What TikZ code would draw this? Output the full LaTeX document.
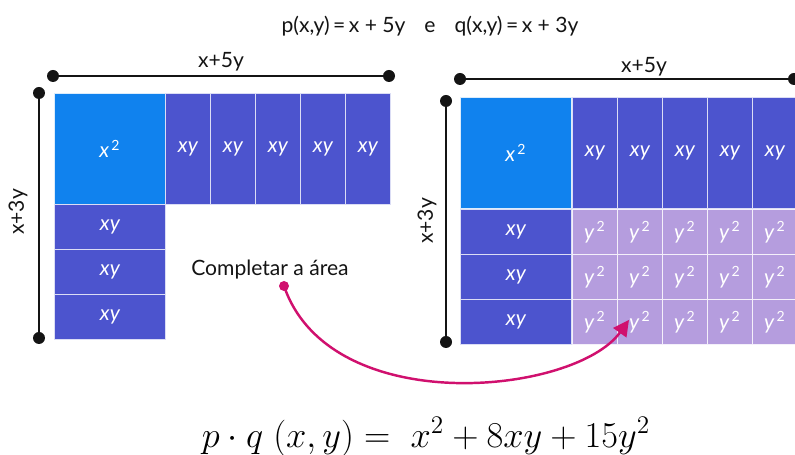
\documentclass[tikz,border=0pt]{standalone}
\usepackage[no-math]{fontspec}
\setmainfont{Lato}
\usepackage{amsmath}
\usepackage{tikz}
\usetikzlibrary{arrows.meta, positioning, calc}
\definecolor{sqblue}{RGB}{16,130,238}
\definecolor{xyblue}{RGB}{76,84,206}
\definecolor{ylilac}{RGB}{181,157,222}
\definecolor{mymag}{RGB}{208,16,110}
\definecolor{mydark}{RGB}{20,20,20}
\tikzset{
  sqcell/.style={rectangle, draw=white!85!sqblue, fill=sqblue, line width=0.5pt,
    minimum width=2.22cm, minimum height=2.22cm, anchor=north west,
    text=white, font=\large\itshape, inner sep=0pt},
  colcell/.style={rectangle, draw=white!80!xyblue, fill=xyblue, line width=0.5pt,
    minimum width=0.9cm, minimum height=2.22cm, anchor=north west,
    text=white, font=\large\itshape, inner sep=0pt},
  rowcell/.style={rectangle, draw=white!80!xyblue, fill=xyblue, line width=0.5pt,
    minimum width=2.22cm, minimum height=0.9cm, anchor=north west,
    text=white, font=\large\itshape, inner sep=0pt},
  ycell/.style={rectangle, draw=white!85!ylilac, fill=ylilac, line width=0.5pt,
    minimum width=0.9cm, minimum height=0.9cm, anchor=north west,
    text=white, font=\large\itshape, inner sep=0pt},
  axisline/.style={line width=1.7pt, color=mydark},
  axisdot/.style={fill=mydark},
  dimlabel/.style={font=\large, text=mydark},
  magarrow/.style={-{Triangle[length=9pt,width=9pt]}, line width=1.4pt, color=mymag}
}

\begin{document}
\begin{tikzpicture}[x=0.02cm, y=-0.02cm]
  \useasboundingbox (0,0) rectangle (795,455);

  % Title
  \node[font=\large, text=mydark] (title) at (430,26)
    {p(x,y)\,=\,x + 5y\hspace{0.9em}e\hspace{0.9em}q(x,y)\,=\,x + 3y};

  % Left figure: x^2 plus five columns and three rows of xy
  \node[sqcell] (sqL) at (54,93) {x\textsuperscript{\upshape\,2}};
  \foreach \i in {0,...,4}
    \node[colcell] (colL\i) at (165+45*\i,93) {xy};
  \foreach \j in {0,1,2}
    \node[rowcell] (rowL\j) at (54,204+45*\j) {xy};

  \coordinate (topLa) at (53,76);
  \coordinate (topLb) at (389,76);
  \coordinate (sideLa) at (39,93);
  \coordinate (sideLb) at (39,338);
  \draw[axisline] (topLa) -- (topLb);
  \draw[axisline] (sideLa) -- (sideLb);
  \foreach \c in {topLa,topLb,sideLa,sideLb}
    \fill[axisdot] (\c) circle (6);
  \node[dimlabel] (wL) at (221,62) {x+5y};
  \node[dimlabel, rotate=90] (hL) at (18,212) {x+3y};

  % Right figure: completed rectangle
  \node[sqcell] (sqR) at (460,97) {x\textsuperscript{\upshape\,2}};
  \foreach \i in {0,...,4}
    \node[colcell] (colR\i) at (572+45*\i,97) {xy};
  \foreach \j in {0,1,2} {
    \node[rowcell] (rowR\j) at (460,209+45*\j) {xy};
    \foreach \i in {0,...,4}
      \node[ycell] (yR\j\i) at (572+45*\i,209+45*\j) {y\textsuperscript{\upshape\,2}};
  }

  \coordinate (topRa) at (460,79);
  \coordinate (topRb) at (794,79);
  \coordinate (sideRa) at (446,101);
  \coordinate (sideRb) at (446,342);
  \draw[axisline] (topRa) -- (topRb);
  \draw[axisline] (sideRa) -- (sideRb);
  \foreach \c in {topRa,topRb,sideRa,sideRb}
    \fill[axisdot] (\c) circle (6);
  \node[dimlabel] (wR) at (644,67) {x+5y};
  \node[dimlabel, rotate=90] (hR) at (427,221) {x+3y};

  % Hint and arrow
  \node[font=\large, text=mydark] (hint) at (270,270) {Completar a área};
  \coordinate (arrstart) at (284,286);
  \fill[mymag] (arrstart) circle (5);
  \draw[magarrow] (arrstart) .. controls (330,420) and (575,395) .. ($(yR21.west)+(12,-2)$);

  % Result
  \node[font=\fontsize{19.6}{23}\selectfont] (result) at (426,437)
    {$p\cdot q\;(x,y) =\; x^2 + 8xy + 15y^2$};
\end{tikzpicture}
\end{document}
